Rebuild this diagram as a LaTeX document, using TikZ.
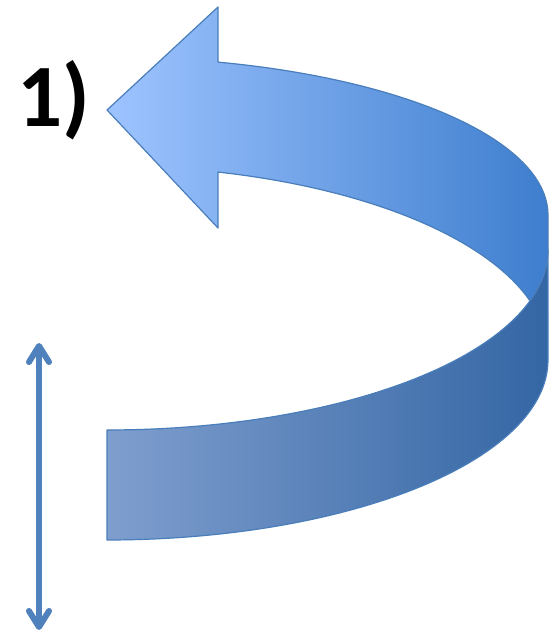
\documentclass[tikz,border=0pt]{standalone}
\usepackage{fontspec}
\setmainfont{Carlito}
\usetikzlibrary{arrows.meta}
\definecolor{topL}{RGB}{158,196,255}
\definecolor{topR}{RGB}{62,126,206}
\definecolor{lowL}{RGB}{127,158,206}
\definecolor{lowR}{RGB}{52,102,164}
\definecolor{edge}{RGB}{74,126,187}
\definecolor{dbl}{RGB}{79,129,189}
\tikzset{
  face/.style={draw=edge, line width=1.2pt, line join=round},
  dblarrow/.style={draw=dbl, line width=6pt, {Straight Barb[round,length=16pt,width=20pt]}-{Straight Barb[round,length=16pt,width=20pt]}},
  label1/.style={inner sep=0pt, anchor=base, font=\bfseries\fontsize{89}{89}\selectfont}
}
\begin{document}
\begin{tikzpicture}[x=1pt,y=-1pt]
\useasboundingbox (0,0) rectangle (550,633);
% lower band (back part of the U-turn)
\path[face, left color=lowL, right color=lowR]
  (107,430) -- plot[domain=90:0, samples=60] ({107+441*cos(\x)},{250+180*sin(\x)})
  -- (548,360)
  -- plot[domain=0:90, samples=60] ({107+441*cos(\x)},{360+180*sin(\x)})
  -- cycle;
% top face with arrow head
\path[face, left color=topL, right color=topR]
  (218,62) -- plot[domain=75.42:0, samples=60] ({107+441*cos(\x)},{215-158*sin(\x)})
  -- (548,250)
  -- plot[domain=0:16.42, samples=15] ({107+441*cos(\x)},{250+180*sin(\x)})
  -- plot[domain=16.42:75.42, samples=60] ({107+441*cos(\x)},{354-188*sin(\x)})
  -- (218,228) -- (107,110) -- (218,7) -- cycle;
% label
\node[label1] (lbl) at (54,126) {1)};
% double arrow
\coordinate (dt) at (39,343);
\coordinate (db) at (39,630);
\draw[dblarrow] (dt) -- (db);
\end{tikzpicture}
\end{document}
